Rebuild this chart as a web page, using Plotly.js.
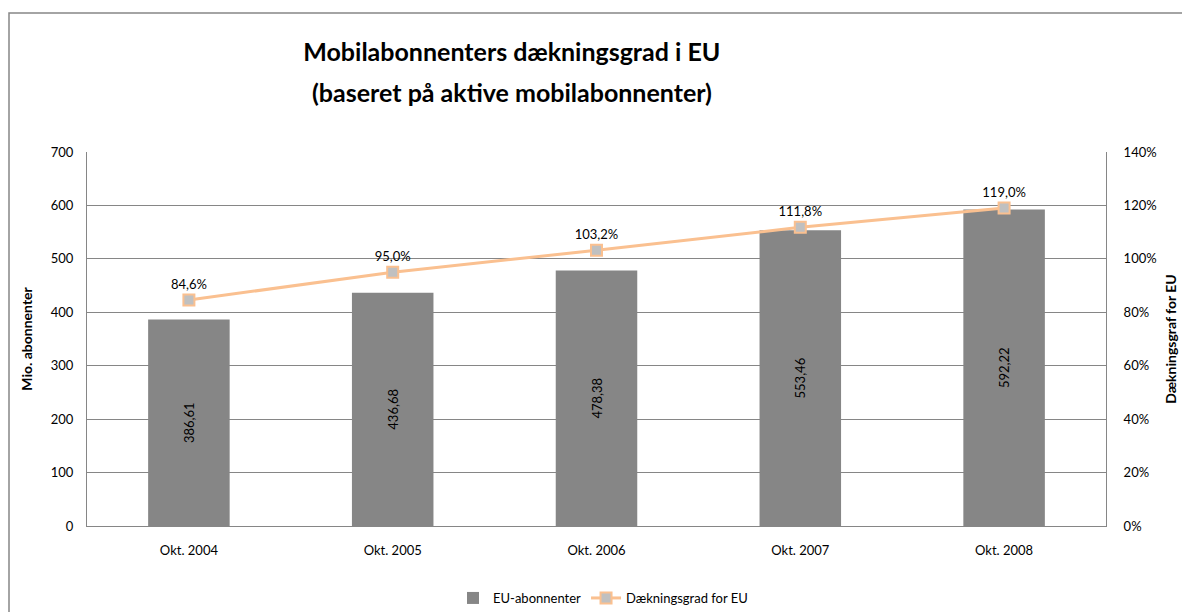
<!DOCTYPE html>
<html>
<head>
<meta charset="utf-8">
<script src="https://cdn.plot.ly/plotly-3.0.1.min.js"></script>
<style>
html,body{margin:0;padding:0;background:#fff;}
#chart{width:1182px;height:612px;}
</style>
</head>
<body>
<div id="chart"></div>
<script>
const categories = ["Okt. 2004", "Okt. 2005", "Okt. 2006", "Okt. 2007", "Okt. 2008"];
const subscribers = [386.61, 436.68, 478.38, 553.46, 592.22];
const coverage = [0.846, 0.950, 1.032, 1.118, 1.190];
const leftTicks = [0, 100, 200, 300, 400, 500, 600, 700];
const rightTicks = [0, 0.2, 0.4, 0.6, 0.8, 1.0, 1.2, 1.4];
const titleLines = ["Mobilabonnenters dækningsgrad i EU", "(baseret på aktive mobilabonnenter)"];

const FONT = "Lato, 'Open Sans', sans-serif";

const barText = subscribers.map(v => String(v).replace('.', ','));
const lineText = coverage.map(v => (v * 100).toFixed(1).replace('.', ',') + '%');

const traces = [
  {
    type: 'bar',
    name: 'EU-abonnenter',
    x: categories,
    y: subscribers,
    marker: {color: '#868686'},
    text: barText,
    textposition: 'inside',
    insidetextanchor: 'middle',
    textangle: -90,
    textfont: {family: FONT, size: 13, color: '#000'},
    constraintext: 'none',
    hoverinfo: 'x+y'
  },
  {
    type: 'scatter',
    mode: 'lines+markers+text',
    name: 'Dækningsgrad for EU',
    x: categories,
    y: coverage,
    yaxis: 'y2',
    line: {color: '#fac090', width: 3},
    marker: {symbol: 'square', size: 11, color: '#c0c0c0', line: {color: '#fac090', width: 2}},
    text: lineText,
    textposition: 'top center',
    textfont: {family: FONT, size: 13, color: '#000'},
    cliponaxis: false
  }
];

const layout = {
  width: 1182,
  height: 612,
  margin: {l: 87, r: 76, t: 152, b: 86, autoexpand: false},
  paper_bgcolor: '#fff',
  plot_bgcolor: '#fff',
  separators: ',.',
  font: {family: FONT, size: 13, color: '#000'},
  title: {
    text: '<b>' + titleLines[0] + '</b>',
    font: {family: FONT, size: 25, color: '#000'},
    x: 0.433, xanchor: 'center',
    y: 1 - 52 / 612, yref: 'container', yanchor: 'middle'
  },
  annotations: [
    {
      text: '<b>' + titleLines[1] + '</b>',
      font: {family: FONT, size: 25, color: '#000'},
      xref: 'paper', yref: 'paper',
      x: (512 - 87) / 1019, xanchor: 'center',
      y: (526 - 92) / 374, yanchor: 'middle',
      showarrow: false
    }
  ],
  bargap: 0.6,
  showlegend: true,
  legend: {
    orientation: 'h',
    x: (603 - 87) / 1019, xanchor: 'center',
    y: (526 - 598) / 374, yanchor: 'middle',
    font: {family: FONT, size: 13, color: '#000'},
    traceorder: 'normal'
  },
  xaxis: {
    type: 'category',
    showline: true,
    linecolor: '#868686',
    linewidth: 1,
    ticks: '',
    ticklabelstandoff: 12,
    tickfont: {family: FONT, size: 13},
    showgrid: false,
    mirror: false
  },
  yaxis: {
    range: [0, 700],
    tickvals: leftTicks,
    showline: true,
    linecolor: '#868686',
    gridcolor: '#868686',
    gridwidth: 1,
    zeroline: false,
    ticks: '',
    ticklabelstandoff: 10,
    tickfont: {family: FONT, size: 13},
    title: {text: '<b>Mio. abonnenter</b>', font: {family: FONT, size: 14}, standoff: 14}
  },
  yaxis2: {
    range: [0, 1.4],
    tickvals: rightTicks,
    tickformat: '.0%',
    overlaying: 'y',
    side: 'right',
    showline: true,
    linecolor: '#868686',
    showgrid: false,
    zeroline: false,
    ticks: '',
    ticklabelstandoff: 14,
    tickfont: {family: FONT, size: 13},
    title: {text: '<b>Dækningsgraf for EU</b>', font: {family: FONT, size: 14}, standoff: 10}
  },
  shapes: [
    {
      type: 'rect', xref: 'paper', yref: 'paper',
      x0: (9 - 87) / 1019, x1: 1.2,
      y0: -0.4, y1: (526 - 13) / 374,
      line: {color: '#868686', width: 1.5},
      fillcolor: 'rgba(0,0,0,0)',
      layer: 'below'
    }
  ]
};

Plotly.newPlot('chart', traces, layout, {displayModeBar: false, staticPlot: true});
</script>
</body>
</html>
